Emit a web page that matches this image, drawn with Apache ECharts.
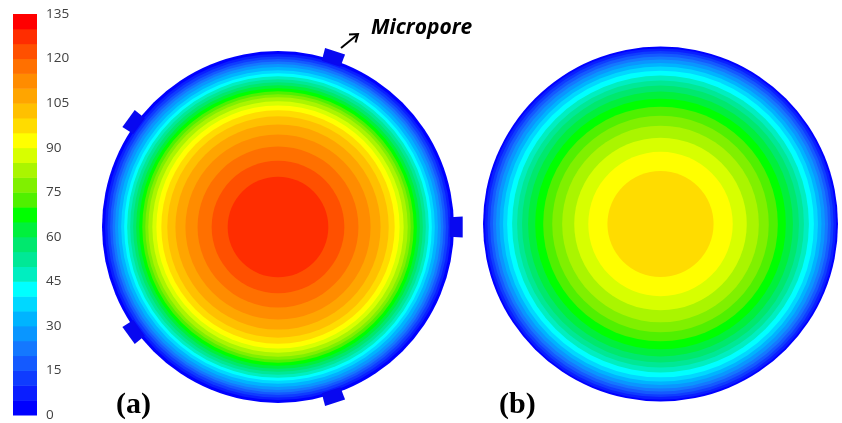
<!DOCTYPE html>
<html>
<head>
<meta charset="utf-8">
<script src="https://cdn.jsdelivr.net/npm/echarts@6/dist/echarts.min.js"></script>
<style>
  html, body { margin: 0; padding: 0; background: #ffffff; }
  #chart { width: 842px; height: 423px; }
</style>
</head>
<body>
<div id="chart"></div>
<script>
// Colour scale: one colour per 5-unit band, 0 .. 135
const scaleTicks = [0, 15, 30, 45, 60, 75, 90, 105, 120, 135];
const bandStep = 5;
const bandColors = [
  '#0000FF', '#0A1EFF', '#0F3CFF', '#145AFF', '#1478FF', '#0A96FF', '#00B4FF',
  '#00D8FF', '#00FFFF', '#00EEC0', '#00E896', '#00E86E', '#00F03C', '#00FF00',
  '#50F000', '#80F000', '#AAF500', '#D7FF00', '#FFFF00', '#FFDC00', '#FFC000',
  '#FFA500', '#FF8C00', '#FF7000', '#FF5000', '#FF2D00', '#FF0000'
];

// Radial contour bands: lower bound of each band and the band's outer edge,
// as a fraction of the sample radius (outermost band first)
// (a) sample with micropores
const bandLowA = [0, 5, 10, 15, 20, 25, 30, 35, 40, 45, 50, 55, 60, 65, 70, 75, 80,
  85, 90, 95, 100, 105, 110, 115, 120, 125];
const bandOuterA = [1.000, 0.983, 0.969, 0.954, 0.940, 0.926, 0.909, 0.891, 0.874,
  0.857, 0.840, 0.823, 0.806, 0.789, 0.771, 0.754, 0.737, 0.714, 0.691, 0.663,
  0.629, 0.583, 0.526, 0.457, 0.377, 0.286];
// (b) sample without micropores
const bandLowB = [0, 5, 10, 15, 20, 25, 30, 35, 40, 45, 50, 55, 60, 65, 70, 75, 80,
  85, 90, 95];
const bandOuterB = [1.000, 0.989, 0.975, 0.960, 0.944, 0.927, 0.907, 0.887, 0.864,
  0.836, 0.808, 0.780, 0.746, 0.706, 0.661, 0.610, 0.554, 0.486, 0.407, 0.299];
// Micropore positions around sample (a), degrees counter-clockwise from the right
const microporeAngles = [0, 72, 144, 216, 288];

const chart = echarts.init(document.getElementById('chart'), null, { renderer: 'canvas' });

function colorOf(low) {
  return bandColors[Math.round(low / bandStep)];
}

// One filled disc per band, outer discs first so inner ones sit on top
function renderBand(params, api) {
  const cs = params.coordSys;
  const p = api.coord([api.value(0), 0]);
  const r = Math.hypot(p[0] - cs.cx, p[1] - cs.cy);
  return {
    type: 'circle',
    shape: { cx: cs.cx, cy: cs.cy, r: r },
    style: { fill: colorOf(api.value(2)), stroke: null }
  };
}

// Small rectangular pore tabs on the rim
const poreWidth = 20, poreDepth = 9, poreInset = 4;
function renderPore(params, api) {
  const cs = params.coordSys;
  const a = api.value(1);
  const half = (poreWidth / 2) / cs.r * 180 / Math.PI;
  const rin = 1 - poreInset / cs.r;
  const rout = 1 + poreDepth / cs.r;
  const pts = [
    api.coord([rin, a - half]), api.coord([rout, a - half]),
    api.coord([rout, a + half]), api.coord([rin, a + half])
  ].map(p => [p[0], p[1]]);
  return {
    type: 'polygon',
    shape: { points: pts },
    style: { fill: '#0808F0', stroke: null }
  };
}

// Colour bar blocks
function renderScale(params, api) {
  const p0 = api.coord([0, api.value(0)]);
  const p1 = api.coord([1, api.value(1)]);
  return {
    type: 'rect',
    shape: { x: p0[0], y: p1[1], width: p1[0] - p0[0], height: p0[1] - p1[1] + 0.5 },
    style: { fill: colorOf(api.value(0)), stroke: null }
  };
}

const polarAngle = (i) => ({
  polarIndex: i, type: 'value', min: 0, max: 360, startAngle: 0, clockwise: false, show: false
});
const polarRadius = (i) => ({ polarIndex: i, type: 'value', min: 0, max: 1, show: false });

const option = {
  animation: false,
  backgroundColor: '#ffffff',
  grid: { left: 13, top: 14, width: 24, height: 401 },
  xAxis: { type: 'value', min: 0, max: 1, show: false },
  yAxis: {
    type: 'value', min: 0, max: scaleTicks[scaleTicks.length - 1], interval: 15,
    position: 'right',
    axisLine: { show: false }, axisTick: { show: false }, splitLine: { show: false },
    axisLabel: { margin: 9, fontSize: 13.5, color: '#404040', fontFamily: 'Open Sans' }
  },
  polar: [
    { center: [278, 227], radius: 176 },
    { center: [660.5, 224], radius: 177.5 }
  ],
  angleAxis: [polarAngle(0), polarAngle(1)],
  radiusAxis: [polarRadius(0), polarRadius(1)],
  series: [
    {
      type: 'custom', coordinateSystem: 'cartesian2d',
      data: bandColors.map((c, k) => [k * bandStep, (k + 1) * bandStep]),
      encode: { y: [0, 1] },
      renderItem: renderScale
    },
    {
      type: 'custom', coordinateSystem: 'polar', polarIndex: 0,
      data: bandOuterA.map((r, i) => [r, 0, bandLowA[i]]),
      renderItem: renderBand
    },
    {
      type: 'custom', coordinateSystem: 'polar', polarIndex: 0,
      data: microporeAngles.map(a => [1, a]),
      renderItem: renderPore
    },
    {
      type: 'custom', coordinateSystem: 'polar', polarIndex: 1,
      data: bandOuterB.map((r, i) => [r, 0, bandLowB[i]]),
      renderItem: renderBand
    }
  ],
  graphic: [
    {
      type: 'text', left: 371, top: 18,
      style: { text: 'Micropore', fill: '#000', font: 'italic bold 21px "Open Sans"' }
    },
    {
      type: 'line',
      shape: { x1: 341, y1: 48, x2: 357, y2: 35 },
      style: { stroke: '#000', lineWidth: 2 }
    },
    {
      type: 'polyline',
      shape: { points: [[349, 34.5], [358, 34], [355.5, 42.5]] },
      style: { stroke: '#000', lineWidth: 2, fill: null }
    },
    {
      type: 'text', left: 116, top: 390,
      style: { text: '(a)', fill: '#000', font: 'bold 30px "Liberation Serif"' }
    },
    {
      type: 'text', left: 499, top: 390,
      style: { text: '(b)', fill: '#000', font: 'bold 30px "Liberation Serif"' }
    }
  ]
};

chart.setOption(option);
</script>
</body>
</html>
